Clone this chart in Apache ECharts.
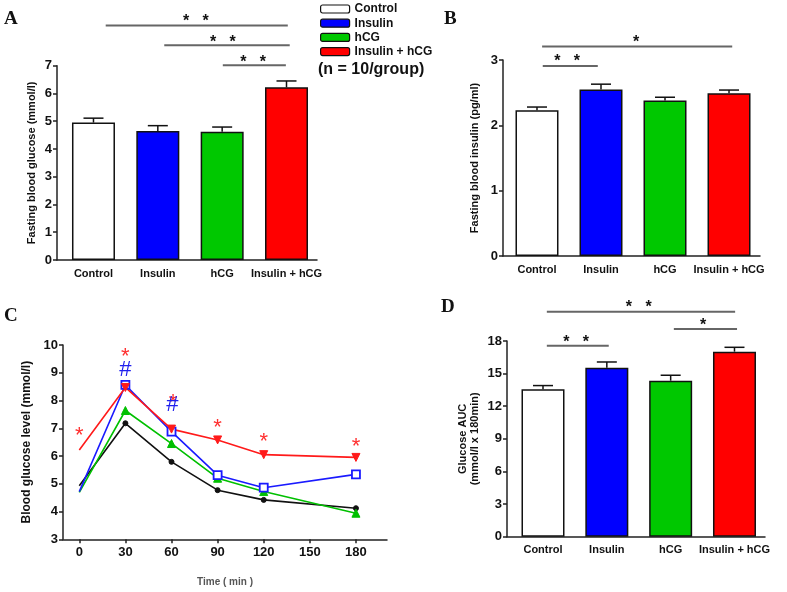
<!DOCTYPE html>
<html>
<head>
<meta charset="utf-8">
<script src="https://cdn.jsdelivr.net/npm/echarts@6/dist/echarts.min.js"></script>
<style>
  html, body { margin: 0; background: #fff; }
  #chart { width: 787px; height: 592px; }
</style>
</head>
<body>
<div id="chart"></div>
<script>
// groups shared by the three bar panels
const groups = ['Control', 'Insulin', 'hCG', 'Insulin + hCG'];
const groupColors = ['#ffffff', '#0000ff', '#00c800', '#ff0000'];

// A: fasting blood glucose (mean, mean + SEM)
const glucoseMean = [4.95, 4.65, 4.62, 6.22];
const glucoseUpper = [5.11, 4.84, 4.79, 6.45];
// B: fasting blood insulin
const insulinMean = [2.23, 2.55, 2.38, 2.49];
const insulinUpper = [2.28, 2.63, 2.43, 2.54];
// D: glucose AUC
const aucMean = [13.56, 15.55, 14.35, 17.02];
const aucUpper = [13.9, 16.07, 14.85, 17.42];

// C: glucose tolerance curve
const timePoints = [0, 30, 60, 90, 120, 180];
const timeTicks = [0, 30, 60, 90, 120, 150, 180];
const ogttControl = [4.93, 7.18, 5.79, 4.77, 4.42, 4.12];
const ogttInsulin = [4.72, 8.56, 6.88, 5.31, 4.86, 5.34];
const ogttHcg = [4.69, 7.64, 6.45, 5.20, 4.72, 3.94];
const ogttBoth = [6.22, 8.47, 6.97, 6.58, 6.05, 5.95];
const starTimes = [0, 30, 61, 90, 120, 180];
const starLevels = [6.94, 9.78, 8.14, 7.24, 6.72, 6.54];
const hashTimes = [30, 60.5];
const hashLevels = [9.1, 7.84];

// significance brackets: [from, to, lineY, markX, markY], marks in a separate list
const sigA = [[0.19, 3.02, 8.45, 1.59, 8.72], [1.10, 3.05, 7.74, 2.01, 7.96], [2.01, 2.99, 7.02, 2.48, 7.24]];
const sigAMarks = ['*   *', '*   *', '*   *'];
const sigB = [[0.08, 3.05, 3.205, 1.55, 3.32], [0.09, 0.95, 2.91, 0.47, 3.03]];
const sigBMarks = ['*', '*   *'];
const sigD = [[0.06, 3.01, 20.7, 1.50, 21.4], [2.05, 3.04, 19.1, 2.51, 19.75], [0.06, 1.03, 17.57, 0.52, 18.19]];
const sigDMarks = ['*   *', '*', '*   *'];

const FONT = "'Liberation Sans', Arial, sans-serif";
const AXIS = '#222';

function errSeries(g, mean, upper) {
  return {
    type: 'custom', xAxisIndex: g, yAxisIndex: g, z: 4, silent: true,
    data: mean.map((m, i) => [i, m, upper[i]]),
    renderItem(params, api) {
      const p0 = api.coord([api.value(0), api.value(1)]);
      const p1 = api.coord([api.value(0), api.value(2)]);
      return { type: 'group', children: [
        { type: 'line', shape: { x1: p0[0], y1: p0[1], x2: p1[0], y2: p1[1] }, style: { stroke: '#111', lineWidth: 1.5 } },
        { type: 'line', shape: { x1: p1[0] - 10, y1: p1[1], x2: p1[0] + 10, y2: p1[1] }, style: { stroke: '#111', lineWidth: 1.5 } }
      ] };
    }
  };
}

function sigSeries(g, sig, marks) {
  return {
    type: 'custom', xAxisIndex: g, yAxisIndex: g, z: 5, clip: false, silent: true,
    data: sig,
    renderItem(params, api) {
      const a = api.coord([api.value(0), api.value(2)]);
      const b = api.coord([api.value(1), api.value(2)]);
      const s = api.coord([api.value(3), api.value(4)]);
      return { type: 'group', children: [
        { type: 'line', shape: { x1: a[0], y1: a[1], x2: b[0], y2: b[1] }, style: { stroke: '#666', lineWidth: 2 } },
        { type: 'text', x: s[0], y: s[1] + 4, style: { text: marks[params.dataIndex], fill: '#111', font: 'bold 16px ' + FONT, align: 'center', verticalAlign: 'middle' } }
      ] };
    }
  };
}

function textSeries(g, xs, ys, text, color, size, dy) {
  return {
    type: 'custom', xAxisIndex: g, yAxisIndex: g, z: 6, clip: false, silent: true,
    data: xs.map((x, i) => [x, ys[i]]),
    renderItem(params, api) {
      const p = api.coord([api.value(0), api.value(1)]);
      return { type: 'text', x: p[0], y: p[1] + dy, style: { text, fill: color, font: size + 'px ' + FONT, align: 'center', verticalAlign: 'middle' } };
    }
  };
}

function barX(g, min, max) {
  return {
    type: 'value', gridIndex: g, min, max,
    axisLine: { show: true, onZero: false, lineStyle: { color: AXIS, width: 1.5 } },
    axisTick: { show: false }, splitLine: { show: false },
    axisLabel: { customValues: [0, 1, 2, 3], formatter: v => groups[v], color: '#111', fontWeight: 'bold', fontSize: 11, fontFamily: FONT, margin: 8 }
  };
}

function yAx(g, min, max, interval, name, gap, nameSize) {
  return {
    type: 'value', gridIndex: g, min, max, interval,
    name, nameLocation: 'middle', nameRotate: 90, nameGap: gap,
    nameTextStyle: { color: '#111', fontWeight: 'bold', fontSize: nameSize || 11, fontFamily: FONT, lineHeight: 12 },
    axisLine: { show: true, onZero: false, lineStyle: { color: AXIS, width: 1.5 } },
    axisTick: { show: true, length: 4, lineStyle: { color: AXIS, width: 1.5 } },
    splitLine: { show: false },
    axisLabel: { color: '#111', fontWeight: 'bold', fontSize: 13, fontFamily: FONT, margin: 5 }
  };
}

function lineSeries(name, values, color, symbol, size, extra) {
  return Object.assign({
    type: 'line', name, xAxisIndex: 2, yAxisIndex: 2, z: 3,
    data: timePoints.map((t, i) => i === 0 ? { value: [t, values[i]], symbolSize: 0 } : [t, values[i]]),
    symbol, symbolSize: size, showSymbol: true,
    lineStyle: { color, width: 1.6 },
    itemStyle: { color, borderColor: color }
  }, extra || {});
}

const chart = echarts.init(document.getElementById('chart'), null, { renderer: 'canvas' });

chart.setOption({
  animation: false,
  backgroundColor: '#fff',
  textStyle: { fontFamily: FONT },
  grid: [
    { left: 57, top: 65.7, width: 260, height: 194.3 },
    { left: 503, top: 60, width: 257, height: 196 },
    { left: 63, top: 345, width: 324, height: 194.3 },
    { left: 507, top: 341, width: 258, height: 195.7 }
  ],
  xAxis: [
    barX(0, -0.567, 3.474),
    barX(1, -0.531, 3.484),
    {
      type: 'value', gridIndex: 2, min: -10.6, max: 200.2,
      name: 'Time ( min )', nameLocation: 'middle', nameGap: 38,
      nameTextStyle: { color: '#555', fontWeight: 'bold', fontSize: 10, fontFamily: FONT },
      axisLine: { show: true, onZero: false, lineStyle: { color: AXIS, width: 1.5 } },
      axisTick: { show: true, customValues: timeTicks, length: 4, lineStyle: { color: AXIS, width: 1.5 } },
      splitLine: { show: false },
      axisLabel: { customValues: timeTicks, color: '#111', fontWeight: 'bold', fontSize: 13, fontFamily: FONT, margin: 7 }
    },
    barX(3, -0.564, 3.478)
  ],
  yAxis: [
    yAx(0, 0, 7, 1, 'Fasting blood glucose (mmol/l)', 19),
    yAx(1, 0, 3, 1, 'Fasting blood insulin (pg/ml)', 22),
    yAx(2, 3, 10, 1, 'Blood glucose level (mmol/l)', 30, 12),
    yAx(3, 0, 18, 3, 'Glucose AUC\n(mmol/l x 180min)', 26)
  ],
  legend: {
    left: 315, top: -2, orient: 'vertical', selectedMode: false,
    icon: 'roundRect', itemWidth: 29, itemHeight: 8, itemGap: 2.2,
    data: groups,
    itemStyle: { borderColor: '#111', borderWidth: 1.2 },
    textStyle: { color: '#111', fontWeight: 'bold', fontSize: 12, fontFamily: FONT, lineHeight: 12 }
  },
  graphic: [
    { type: 'text', left: 4, top: 10, style: { text: 'A', font: 'bold 19px "Liberation Serif", serif', fill: '#111' } },
    { type: 'text', left: 444, top: 10, style: { text: 'B', font: 'bold 19px "Liberation Serif", serif', fill: '#111' } },
    { type: 'text', left: 4, top: 307, style: { text: 'C', font: 'bold 19px "Liberation Serif", serif', fill: '#111' } },
    { type: 'text', left: 441, top: 298, style: { text: 'D', font: 'bold 19px "Liberation Serif", serif', fill: '#111' } },
    { type: 'text', left: 318, top: 62, style: { text: '(n = 10/group)', font: 'bold 16px ' + FONT, fill: '#111' } }
  ],
  series: [
    ...groups.map((name, i) => ({
      type: 'bar', name, xAxisIndex: 0, yAxisIndex: 0, barWidth: 43, barGap: '-100%', z: 2,
      data: [[i, glucoseMean[i]]],
      itemStyle: { color: groupColors[i], borderColor: '#111', borderWidth: 1.5 }
    })),
    errSeries(0, glucoseMean, glucoseUpper),
    sigSeries(0, sigA, sigAMarks),
    {
      type: 'bar', xAxisIndex: 1, yAxisIndex: 1, barWidth: 43, z: 2,
      data: insulinMean.map((v, i) => ({ value: [i, v], itemStyle: { color: groupColors[i] } })),
      itemStyle: { borderColor: '#111', borderWidth: 1.5 }
    },
    errSeries(1, insulinMean, insulinUpper),
    sigSeries(1, sigB, sigBMarks),
    {
      type: 'bar', xAxisIndex: 3, yAxisIndex: 3, barWidth: 43, z: 2,
      data: aucMean.map((v, i) => ({ value: [i, v], itemStyle: { color: groupColors[i] } })),
      itemStyle: { borderColor: '#111', borderWidth: 1.5 }
    },
    errSeries(3, aucMean, aucUpper),
    sigSeries(3, sigD, sigDMarks),
    lineSeries('Control C', ogttControl, '#111', 'circle', 5),
    lineSeries('hCG C', ogttHcg, '#00c000', 'triangle', 8),
    lineSeries('Insulin C', ogttInsulin, '#1a1aff', 'rect', 8, { itemStyle: { color: '#fff', borderColor: '#1a1aff', borderWidth: 1.8 } }),
    lineSeries('Insulin + hCG C', ogttBoth, '#ff1a1a', 'triangle', 8, { symbolRotate: 180 }),
    textSeries(2, starTimes, starLevels, '*', '#ff3030', 22, 6),
    textSeries(2, hashTimes, hashLevels, '#', '#2020ee', 22, 0)
  ]
});
</script>
</body>
</html>
